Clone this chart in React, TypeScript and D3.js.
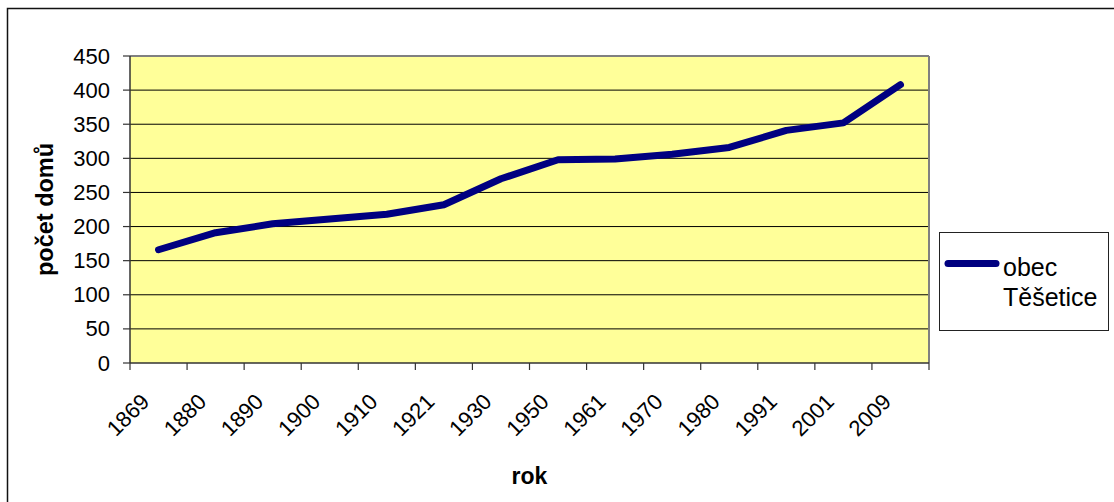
import React from "react";
import * as d3 from "d3";

const years = ["1869", "1880", "1890", "1900", "1910", "1921", "1930", "1950", "1961", "1970", "1980", "1991", "2001", "2009"];
const houses = [166, 191, 204, 211, 218, 232, 270, 298, 299, 306, 316, 341, 352, 408];
const yTicks = [0, 50, 100, 150, 200, 250, 300, 350, 400, 450];
const seriesName = ["obec", "Těšetice"];

const FONT = "'Liberation Sans', Arial, sans-serif";

export default function App() {
  const W = 1114, H = 502;
  const left = 130, right = 929, top = 56, bottom = 363;
  const x = d3.scaleBand<string>().domain(years).range([left, right]);
  const y = d3.scaleLinear().domain([0, 450]).range([bottom, top]);
  const line = d3.line<number>()
    .x((_, i) => (x(years[i]) as number) + x.bandwidth() / 2)
    .y((d) => y(d));
  const xTickPos = years.map((yr) => x(yr) as number).concat([right]);

  return (
    <svg width={W} height={H} style={{ position: "absolute", left: 0, top: 0 }} fontFamily={FONT}>
      <rect x={0} y={0} width={W} height={H} fill="#fff" />
      <rect x={7.5} y={8.5} width={W + 20} height={H + 20} fill="none" stroke="#111" strokeWidth={1.5} />
      {/* plot area */}
      <rect x={left} y={top} width={right - left} height={bottom - top} fill="#ffff99" />
      {yTicks.filter((t) => t > 0).map((t) => (
        <line key={t} x1={left} x2={right} y1={y(t)} y2={y(t)} stroke="#000" strokeWidth={1} />
      ))}
      <line x1={left} x2={right} y1={top} y2={top} stroke="#808080" strokeWidth={2} />
      <line x1={right} x2={right} y1={top} y2={bottom} stroke="#808080" strokeWidth={2} />
      {/* axes */}
      <line x1={left} x2={left} y1={top} y2={bottom} stroke="#333" strokeWidth={1.5} />
      <line x1={left} x2={right} y1={bottom} y2={bottom} stroke="#333" strokeWidth={1.5} />
      {yTicks.map((t) => (
        <g key={t}>
          <line x1={left - 7} x2={left} y1={y(t)} y2={y(t)} stroke="#333" strokeWidth={1.2} />
          <text x={110} y={y(t)} textAnchor="end" dominantBaseline="central" fontSize={22} fill="#000">{t}</text>
        </g>
      ))}
      {xTickPos.map((p, i) => (
        <line key={i} x1={p} x2={p} y1={bottom} y2={bottom + 7} stroke="#333" strokeWidth={1.2} />
      ))}
      {years.map((yr) => {
        const cx = (x(yr) as number) + x.bandwidth() / 2;
        return (
          <text key={yr} transform={`translate(${cx - 8},${bottom + 40}) rotate(-45)`} textAnchor="end" fontSize={22} fill="#000">{yr}</text>
        );
      })}
      {/* series */}
      <path d={line(houses) || ""} fill="none" stroke="#000080" strokeWidth={7} strokeLinejoin="round" strokeLinecap="round" />
      {/* axis titles */}
      <text x={529.5} y={484} textAnchor="middle" fontSize={23} fontWeight="bold">rok</text>
      <text transform={`translate(53,${(top + bottom) / 2}) rotate(-90)`} textAnchor="middle" fontSize={23.5} fontWeight="bold">počet domů</text>
      {/* legend */}
      <rect x={939.5} y={232.5} width={169} height={98} fill="#fff" stroke="#222" strokeWidth={1} />
      <line x1={948} x2={996} y1={263.5} y2={263.5} stroke="#000080" strokeWidth={7} strokeLinecap="round" />
      <text x={1003} y={276} fontSize={25}>{seriesName[0]}</text>
      <text x={1003} y={306} fontSize={25}>{seriesName[1]}</text>
    </svg>
  );
}
